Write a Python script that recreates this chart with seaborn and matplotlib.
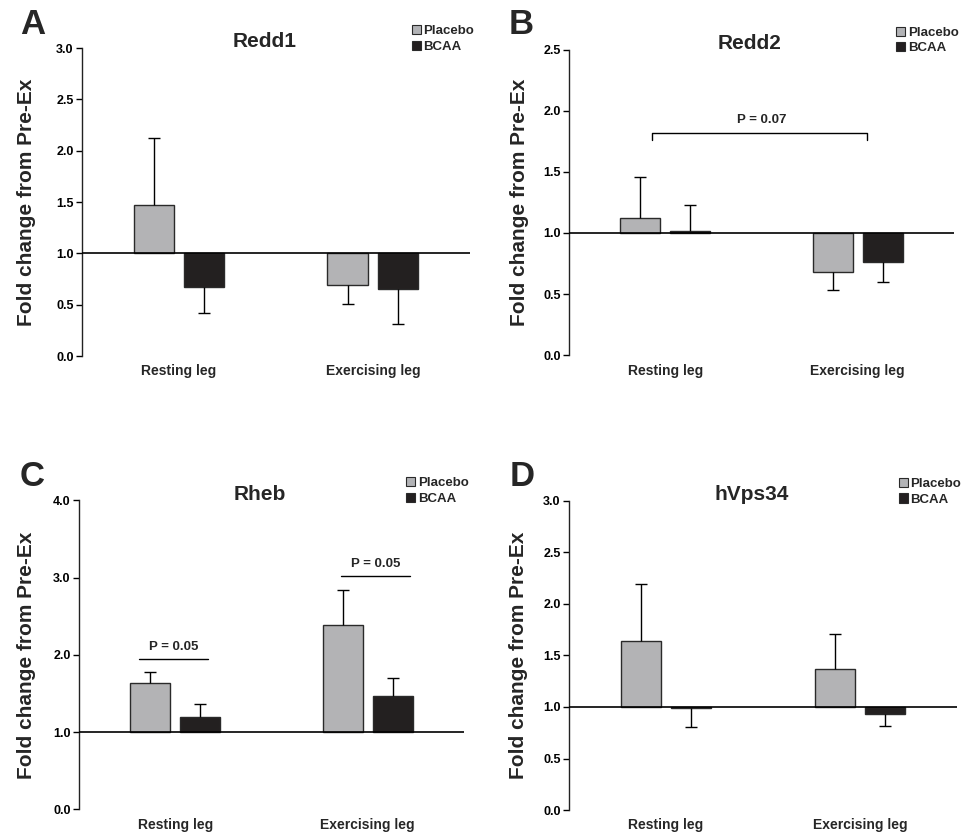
import numpy as np
import pandas as pd
import matplotlib
matplotlib.use("Agg")
import matplotlib.pyplot as plt
from matplotlib.patches import Patch
import seaborn as sns

sns.set_theme(style="ticks")
plt.rcParams['font.family'] = ['Liberation Sans', 'DejaVu Sans']
plt.rcParams['font.weight'] = 'bold'

legs = ['Resting leg', 'Exercising leg']
groups = ['Placebo', 'BCAA']

# bar heights (fold change) and the tip of each error bar
redd1_placebo = [1.47, 0.69]
redd1_bcaa = [0.67, 0.65]
redd1_placebo_err = [2.12, 0.51]
redd1_bcaa_err = [0.42, 0.31]

redd2_placebo = [1.12, 0.68]
redd2_bcaa = [1.02, 0.76]
redd2_placebo_err = [1.46, 0.53]
redd2_bcaa_err = [1.23, 0.60]

rheb_placebo = [1.64, 2.38]
rheb_bcaa = [1.20, 1.47]
rheb_placebo_err = [1.78, 2.84]
rheb_bcaa_err = [1.36, 1.70]

hvps_placebo = [1.64, 1.37]
hvps_bcaa = [0.99, 0.93]
hvps_placebo_err = [2.19, 1.71]
hvps_bcaa_err = [0.81, 0.82]

colors = {'Placebo': '#b2b3b6', 'BCAA': '#231f20'}

panels = [
    dict(letter='A', title='Redd1', pl=redd1_placebo, bc=redd1_bcaa,
         pe=redd1_placebo_err, be=redd1_bcaa_err, ymax=3.0, step=0.5,
         rect=[0.0839, 0.5726, 0.397, 0.3697], lab=-0.118, lpos=(33, 25)),
    dict(letter='B', title='Redd2', pl=redd2_placebo, bc=redd2_bcaa,
         pe=redd2_placebo_err, be=redd2_bcaa_err, ymax=2.5, step=0.5,
         rect=[0.5824, 0.5735, 0.394, 0.367], lab=-0.105, lpos=(521, 25)),
    dict(letter='C', title='Rheb', pl=rheb_placebo, bc=rheb_bcaa,
         pe=rheb_placebo_err, be=rheb_bcaa_err, ymax=4.0, step=1.0,
         rect=[0.0809, 0.0284, 0.394, 0.371], lab=-0.111, lpos=(32, 476)),
    dict(letter='D', title='hVps34', pl=hvps_placebo, bc=hvps_bcaa,
         pe=hvps_placebo_err, be=hvps_bcaa_err, ymax=3.0, step=0.5,
         rect=[0.5824, 0.0276, 0.397, 0.371], lab=-0.105, lpos=(522, 477)),
]

fig = plt.figure(figsize=(9.77, 8.33), dpi=100)

for p in panels:
    ax = fig.add_axes(p['rect'])
    df = pd.DataFrame({
        'leg': legs * 2,
        'group': ['Placebo'] * 2 + ['BCAA'] * 2,
        'value': p['pl'] + p['bc'],
    })
    df['delta'] = df['value'] - 1.0
    sns.barplot(data=df, x='leg', y='delta', hue='group', order=legs,
                hue_order=groups, palette=colors, width=0.52, gap=0.2,
                errorbar=None, bottom=1.0, edgecolor='#2a2a2a', linewidth=1.0,
                legend=False, ax=ax)

    # one-sided error bars, pointing away from 1.0, cap only at the tip
    for cont, vals, tips in zip(ax.containers, [p['pl'], p['bc']], [p['pe'], p['be']]):
        xs = [r.get_x() + r.get_width() / 2 for r in cont]
        ax.vlines(xs, vals, tips, color='black', lw=1.0, zorder=3)
        ax.plot(xs, tips, ls='none', marker='_', ms=8.6, mew=1.0,
                color='black', zorder=3)

    ax.axhline(1.0, color='black', lw=1.2, zorder=4)
    ax.set_xlim(-0.5, 1.5)
    ax.set_ylim(0, p['ymax'])
    ax.set_yticks(np.arange(0, p['ymax'] + 0.01, p['step']))
    ax.yaxis.set_major_formatter(matplotlib.ticker.FormatStrFormatter('%.1f'))
    ax.tick_params(axis='y', direction='out', length=4, width=1, labelsize=9,
                   pad=2, colors='black')
    ax.tick_params(axis='x', length=0, labelsize=10, pad=6)
    for lbl in ax.get_yticklabels() + ax.get_xticklabels():
        lbl.set_fontweight('bold')
    ax.set_xlabel('')
    ax.set_ylabel('Fold change from Pre-Ex', fontsize=15, fontweight='bold')
    ax.yaxis.set_label_coords(p['lab'], 0.5)
    sns.despine(ax=ax, bottom=True)
    ax.spines['left'].set_color('#222222')
    ax.spines['left'].set_linewidth(1.0)

    ax.text(0.47, 1.02, p['title'], transform=ax.transAxes, ha='center',
            va='center', fontsize=15, fontweight='bold')
    handles = [Patch(facecolor=colors[g], edgecolor='#2a2a2a', lw=0.8) for g in groups]
    ax.legend(handles, groups, loc='upper left', bbox_to_anchor=(0.85, 1.075),
              frameon=False, handlelength=0.7, handleheight=0.7,
              handletextpad=0.2, borderpad=0, borderaxespad=0, labelspacing=0.25,
              prop={'weight': 'bold', 'size': 9.5})
    fig.text(p['lpos'][0] / 977, 1 - p['lpos'][1] / 833, p['letter'],
             ha='center', va='center', fontsize=25, fontweight='bold')

    if p['letter'] == 'B':
        ax.plot([-0.07, -0.07, 1.05, 1.05], [1.76, 1.82, 1.82, 1.76],
                color='black', lw=1.0)
        ax.text(0.5, 1.92, 'P = 0.07', ha='center', va='center', fontsize=9.5,
                fontweight='bold')
    if p['letter'] == 'C':
        ax.plot([-0.19, 0.17], [1.94, 1.94], color='black', lw=1.0)
        ax.text(-0.01, 2.10, 'P = 0.05', ha='center', va='center', fontsize=9.5,
                fontweight='bold')
        ax.plot([0.86, 1.22], [3.02, 3.02], color='black', lw=1.0)
        ax.text(1.04, 3.18, 'P = 0.05', ha='center', va='center', fontsize=9.5,
                fontweight='bold')

fig.savefig('out.png', dpi=100)
